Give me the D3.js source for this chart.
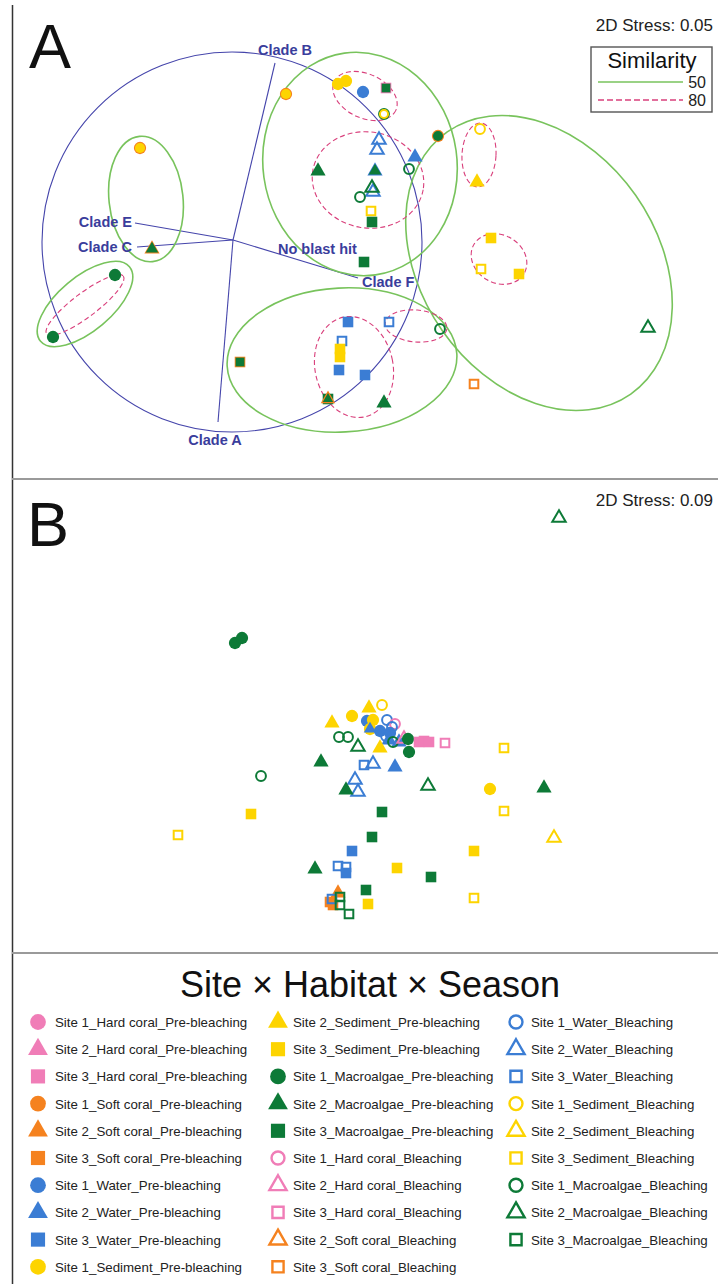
<!DOCTYPE html>
<html>
<head>
<meta charset="utf-8">
<script src="https://cdn.jsdelivr.net/npm/d3@7"></script>
<style>
  body { margin: 0; background: #fff; }
  svg { display: block; font-family: "Liberation Sans", Arial, sans-serif; }
</style>
</head>
<body>
<svg id="fig" width="718" height="1284"></svg>
<script>
// ---- categories ----
const habitatName = { HC: "Hard coral", SC: "Soft coral", W: "Water", SD: "Sediment", MA: "Macroalgae" };
const seasonName = { P: "Pre-bleaching", B: "Bleaching" };
const habitatColor = { HC: "#f07db7", SC: "#f5821f", W: "#3b7dd4", SD: "#fdd400", MA: "#0d7a37" };

// legend entries: [site, habitat, season], filled column by column
const legendEntries = [
  [1,"HC","P"],[2,"HC","P"],[3,"HC","P"],[1,"SC","P"],[2,"SC","P"],[3,"SC","P"],[1,"W","P"],[2,"W","P"],[3,"W","P"],[1,"SD","P"],
  [2,"SD","P"],[3,"SD","P"],[1,"MA","P"],[2,"MA","P"],[3,"MA","P"],[1,"HC","B"],[2,"HC","B"],[3,"HC","B"],[2,"SC","B"],[3,"SC","B"],
  [1,"W","B"],[2,"W","B"],[3,"W","B"],[1,"SD","B"],[2,"SD","B"],[3,"SD","B"],[1,"MA","B"],[2,"MA","B"],[3,"MA","B"]
];

// ---- nMDS ordination A (stress 0.05): [site, habitat, season, MDS1, MDS2] ----
const ordA = [
  [1,"SC","P",-2.20,0.92],[1,"SD","P",-2.20,0.92],
  [1,"SC","P",-0.74,1.46],[1,"SD","P",-0.74,1.46],
  [1,"SD","P",-0.22,1.56],[1,"SD","P",-0.14,1.59],
  [1,"W","P",0.03,1.48],
  [3,"HC","P",0.26,1.52],[3,"MA","P",0.26,1.52],
  [1,"MA","B",0.24,1.26],[1,"SD","B",0.24,1.26],
  [1,"SC","P",0.78,1.04],[1,"MA","P",0.78,1.04],
  [2,"W","B",0.19,1.00],[2,"W","B",0.17,0.90],
  [2,"W","P",0.55,0.83],
  [2,"MA","P",-0.42,0.69],
  [2,"W","P",0.15,0.69],[2,"MA","P",0.15,0.69],
  [1,"MA","B",0.49,0.71],
  [2,"W","B",0.13,0.48],[2,"MA","B",0.12,0.52],
  [1,"MA","B",0.00,0.43],
  [3,"SD","B",0.11,0.29],
  [3,"MA","P",0.12,0.18],
  [2,"SC","P",-2.08,-0.09],[2,"MA","P",-2.08,-0.09],
  [1,"MA","P",-2.45,-0.35],
  [1,"MA","P",-3.07,-0.97],
  [3,"MA","P",0.04,-0.22],
  [3,"SC","P",-1.20,-1.22],[3,"MA","P",-1.20,-1.22],
  [3,"W","P",-0.12,-0.82],
  [3,"W","B",-0.18,-1.01],
  [3,"SD","P",-0.20,-1.09],[3,"SD","P",-0.20,-1.17],
  [3,"W","P",-0.21,-1.30],
  [3,"W","P",0.05,-1.35],
  [3,"MA","P",-0.32,-1.59],[2,"SC","B",-0.32,-1.59],[2,"MA","P",-0.32,-1.59],
  [2,"MA","P",0.24,-1.63],
  [3,"W","B",0.29,-0.82],
  [1,"MA","B",0.80,-0.89],
  [3,"SC","B",1.14,-1.44],
  [2,"MA","B",2.88,-0.88],
  [1,"SD","B",1.20,1.11],
  [2,"SD","P",1.17,0.58],
  [3,"SD","P",1.31,0.02],
  [3,"SD","B",1.21,-0.29],
  [3,"SD","P",1.59,-0.34]
];

// similarity contours on A: [centre MDS1, centre MDS2, half-axis 1, half-axis 2, rotation deg]
const sim50 = [
  [-2.14, 0.41, 0.37, 0.63, -6],
  [-2.75, -0.64, 0.58, 0.27, -40],
  [0.00, 0.76, 0.97, 1.12, -8],
  [1.79, -0.23, 1.60, 1.18, 55],
  [-0.18, -1.20, 1.15, 0.72, -3]
];
const sim80 = [
  [0.05, 1.44, 0.34, 0.22, 25],
  [0.08, 0.60, 0.56, 0.48, 10],
  [1.19, 0.85, 0.17, 0.32, 3],
  [1.39, -0.19, 0.29, 0.24, 30],
  [-0.06, -1.27, 0.39, 0.51, -12],
  [0.56, -0.86, 0.31, 0.16, 5],
  [-2.75, -0.65, 0.48, 0.12, -37]
];
// Symbiodinium clade overlay: circle, hub and arms
const cladeCircle = [-1.28, -0.02, 1.90, 1.90, 0];
const cladeHub = [-1.27, 0.00];
const cladeArms = [
  { name: "Clade A", end: [-1.42, -1.82], label: [-1.45, -2.05], anchor: "middle" },
  { name: "Clade B", end: [-0.85, 1.77], label: [-1.02, 1.85], anchor: "start" },
  { name: "Clade C", end: [-2.23, -0.07], label: [-2.28, -0.12], anchor: "end" },
  { name: "Clade E", end: [-2.25, 0.17], label: [-2.28, 0.13], anchor: "end" },
  { name: "Clade F", end: [-0.02, -0.38], label: [0.02, -0.47], anchor: "start" },
  { name: "No blast hit", end: null, label: [-0.82, -0.14], anchor: "start" }
];

// ---- nMDS ordination B (stress 0.09) ----
const ordB = [
  [2,"MA","B",1.99,2.02],
  [1,"MA","P",-1.25,0.77],[1,"MA","P",-1.18,0.82],
  [2,"SD","P",-0.28,-0.03],
  [1,"SD","P",-0.08,0.04],
  [2,"SD","P",0.09,0.12],
  [1,"SD","B",0.22,0.15],
  [1,"W","P",0.07,-0.01],
  [1,"SD","P",0.13,0.00],
  [1,"W","B",0.27,0.00],
  [1,"HC","B",0.35,-0.04],
  [1,"SD","P",0.10,-0.09],[2,"W","P",0.10,-0.09],
  [1,"W","P",0.20,-0.11],
  [1,"W","P",0.30,-0.13],
  [1,"W","B",0.32,-0.07],
  [1,"W","B",0.26,-0.16],
  [2,"W","P",0.29,-0.20],[2,"W","P",0.39,-0.22],
  [1,"MA","B",0.33,-0.22],
  [2,"HC","B",0.44,-0.19],
  [1,"MA","P",0.48,-0.19],
  [1,"MA","P",0.49,-0.32],
  [1,"MA","B",-0.21,-0.17],[1,"MA","B",-0.12,-0.17],
  [2,"MA","B",-0.02,-0.27],
  [2,"SD","P",0.20,-0.28],
  [3,"HC","P",0.59,-0.22],[3,"HC","P",0.64,-0.21],[3,"HC","P",0.69,-0.22],
  [3,"HC","B",0.85,-0.23],
  [3,"SD","B",1.44,-0.28],
  [2,"MA","P",-0.39,-0.42],
  [3,"W","B",0.04,-0.45],
  [2,"W","B",0.13,-0.44],
  [2,"W","P",0.35,-0.47],
  [1,"MA","B",-0.99,-0.56],
  [2,"W","B",-0.05,-0.60],[2,"W","B",-0.02,-0.72],
  [2,"MA","P",-0.14,-0.70],
  [2,"MA","B",0.68,-0.66],
  [1,"SD","P",1.30,-0.69],
  [2,"MA","P",1.84,-0.68],
  [3,"SD","P",-1.09,-0.94],
  [3,"SD","B",1.44,-0.91],
  [3,"MA","P",0.22,-0.92],
  [3,"SD","B",-1.82,-1.15],
  [3,"MA","P",0.12,-1.17],
  [2,"SD","B",1.94,-1.18],
  [3,"W","P",-0.08,-1.31],
  [3,"SD","P",1.14,-1.31],
  [2,"MA","P",-0.45,-1.49],
  [3,"W","B",-0.22,-1.46],[3,"W","B",-0.14,-1.47],
  [3,"W","P",-0.14,-1.53],
  [3,"SD","P",0.37,-1.48],
  [3,"MA","P",0.71,-1.57],
  [3,"MA","P",0.06,-1.70],
  [3,"SD","B",1.14,-1.78],
  [2,"SC","P",-0.22,-1.73],
  [3,"SC","P",-0.30,-1.82],[3,"SC","P",-0.27,-1.85],
  [3,"W","B",-0.28,-1.79],
  [3,"MA","B",-0.20,-1.77],[3,"MA","B",-0.20,-1.85],
  [3,"SD","P",0.08,-1.84],
  [3,"MA","B",-0.11,-1.94]
];

const stressA = "2D Stress: 0.05";
const stressB = "2D Stress: 0.09";
const similarityLevels = [50, 80];

// ---- drawing ----
const svg = d3.select("#fig");
const W = 718;

const shapeOf = { 1: d3.symbolCircle, 2: d3.symbolTriangle, 3: d3.symbolSquare };
const shapeKey = { 1: "c", 2: "t", 3: "s" };
const plotSize = { filled: { c: 118, t: 100, s: 112 }, open: { c: 76, t: 78, s: 74 } };
const legendSize = { filled: { c: 195, t: 170, s: 200 }, open: { c: 132, t: 128, s: 125 } };

function label(e) {
  return `Site ${e[0]}_${habitatName[e[1]]}_${seasonName[e[2]]}`;
}

function drawMarker(g, e, x, y, sizes, sw, shrink) {
  const open = e[2] === "B";
  const area = (open ? sizes.open : sizes.filled)[shapeKey[e[0]]] * shrink;
  const col = habitatColor[e[1]];
  g.append("path")
    .attr("d", d3.symbol().type(shapeOf[e[0]]).size(area)())
    .attr("transform", `translate(${x},${y})`)
    .attr("fill", open ? "none" : col)
    .attr("stroke", open ? col : "none")
    .attr("stroke-width", open ? sw : 0)
    .attr("stroke-linejoin", "miter");
}

function drawPoints(g, data, xs, ys) {
  const seen = new Map();
  data.forEach(e => {
    const key = e[3] + "," + e[4];
    const k = seen.get(key) || 0;
    seen.set(key, k + 1);
    drawMarker(g, e, xs(e[3]), ys(e[4]), plotSize, 2, Math.pow(0.68, k));
  });
}

// frame
svg.append("line").attr("x1", 12.5).attr("y1", 5).attr("x2", 12.5).attr("y2", 1284)
  .attr("stroke", "#333").attr("stroke-width", 1.5);
[479, 953].forEach(y => svg.append("line").attr("x1", 12).attr("x2", W).attr("y1", y).attr("y2", y)
  .attr("stroke", "#9a9a9a").attr("stroke-width", 2));

// ---------- Panel A ----------
const xA = d3.scaleLinear().domain([-3.5, 3.5]).range([10, 710]);
const yA = d3.scaleLinear().domain([-2.3, 2.3]).range([470, 10]);
const kxA = xA(1) - xA(0), kyA = yA(0) - yA(1);
const gA = svg.append("g");

function ellipse(g, e, stroke, sw, dash) {
  g.append("ellipse")
    .attr("transform", `translate(${xA(e[0])},${yA(e[1])}) rotate(${e[4]})`)
    .attr("rx", e[2] * kxA).attr("ry", e[3] * kyA)
    .attr("fill", "none").attr("stroke", stroke).attr("stroke-width", sw)
    .attr("stroke-dasharray", dash || null);
}

const cladeBlue = "#4545ab";
ellipse(gA, cladeCircle, cladeBlue, 1.1);
cladeArms.filter(a => a.end).forEach(a => {
  gA.append("line")
    .attr("x1", xA(cladeHub[0])).attr("y1", yA(cladeHub[1]))
    .attr("x2", xA(a.end[0])).attr("y2", yA(a.end[1]))
    .attr("stroke", cladeBlue).attr("stroke-width", 1.1);
});
sim50.forEach(e => ellipse(gA, e, "#78c35c", 1.6));
sim80.forEach(e => ellipse(gA, e, "#d9407c", 1.1, "5,3"));
cladeArms.forEach(a => {
  gA.append("text").attr("x", xA(a.label[0])).attr("y", yA(a.label[1]))
    .attr("text-anchor", a.anchor).attr("font-size", 14.5).attr("font-weight", "bold")
    .attr("fill", "#3a3d9c").text(a.name);
});
drawPoints(gA, ordA, xA, yA);

gA.append("text").attr("x", 29).attr("y", 68).attr("font-size", 63).attr("fill", "#111").text("A");
gA.append("text").attr("x", 713).attr("y", 31).attr("text-anchor", "end").attr("font-size", 17)
  .attr("fill", "#222").text(stressA);

// similarity key
const key = gA.append("g");
key.append("rect").attr("x", 591).attr("y", 47).attr("width", 121).attr("height", 65)
  .attr("fill", "#fff").attr("stroke", "#555").attr("stroke-width", 1.4);
key.append("text").attr("x", 652).attr("y", 68).attr("text-anchor", "middle")
  .attr("font-size", 22).attr("fill", "#111").text("Similarity");
similarityLevels.forEach((lv, i) => {
  const y = 82 + i * 18;
  key.append("line").attr("x1", 598).attr("x2", 683).attr("y1", y).attr("y2", y)
    .attr("stroke", i === 0 ? "#78c35c" : "#d9407c").attr("stroke-width", i === 0 ? 1.6 : 1.3)
    .attr("stroke-dasharray", i === 0 ? null : "6,3");
  key.append("text").attr("x", 706).attr("y", y + 5.5).attr("text-anchor", "end")
    .attr("font-size", 16).attr("fill", "#222").text(lv);
});

// ---------- Panel B ----------
const xB = d3.scaleLinear().domain([-3.5, 3.5]).range([10, 710]);
const yB = d3.scaleLinear().domain([-2.3, 2.3]).range([950, 490]);
const gB = svg.append("g");
drawPoints(gB, ordB, xB, yB);
gB.append("text").attr("x", 27).attr("y", 546).attr("font-size", 63).attr("fill", "#111").text("B");
gB.append("text").attr("x", 713).attr("y", 506).attr("text-anchor", "end").attr("font-size", 17)
  .attr("fill", "#222").text(stressB);

// ---------- Legend ----------
const gL = svg.append("g");
gL.append("text").attr("x", 370).attr("y", 997).attr("text-anchor", "middle")
  .attr("font-size", 36).attr("fill", "#111").text("Site \u00d7 Habitat \u00d7 Season");
const colSym = [38, 278, 516], colText = [55, 293, 531];
legendEntries.forEach((e, i) => {
  const c = Math.floor(i / 10), r = i % 10;
  const y = 1022 + r * 27.2;
  drawMarker(gL, e, colSym[c], y, legendSize, 2.4, 1);
  gL.append("text").attr("x", colText[c]).attr("y", y + 5).attr("font-size", 13.3)
    .attr("fill", "#222").text(label(e));
});
</script>
</body>
</html>
